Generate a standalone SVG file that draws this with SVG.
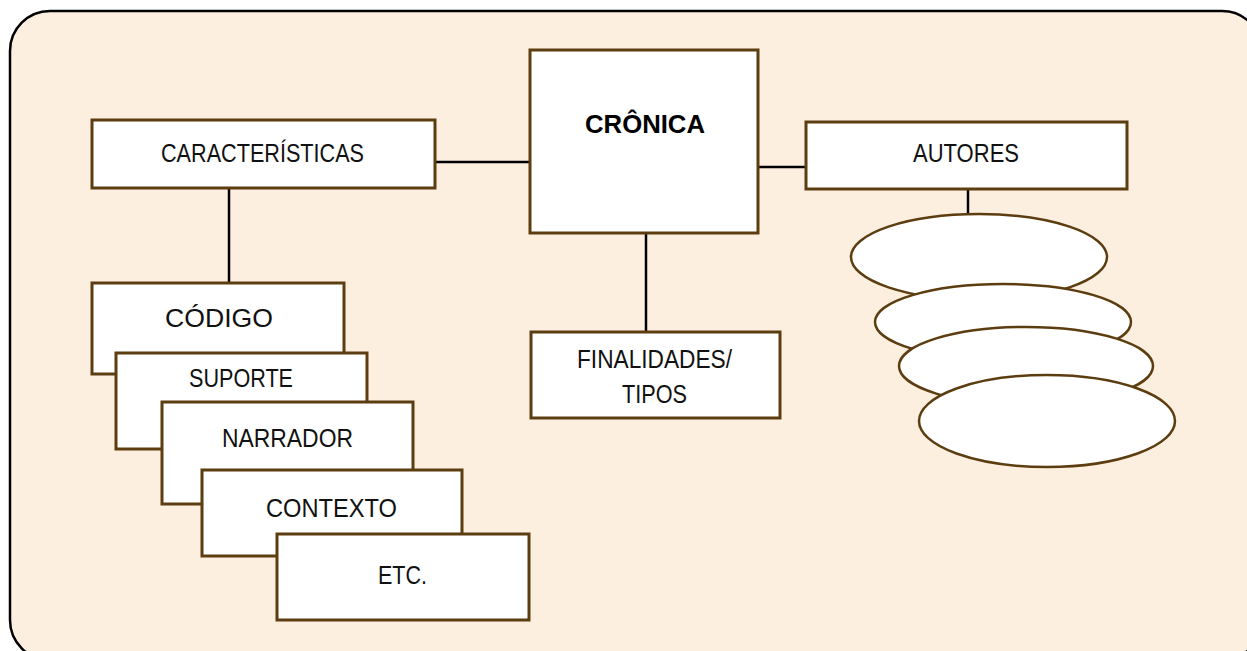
<svg xmlns="http://www.w3.org/2000/svg" width="1247" height="651" viewBox="0 0 1247 651">
<style>
.frame{fill:#fdefe0;stroke:#000;stroke-width:2.5}
.box{fill:#fff;stroke:#5c3d10;stroke-width:3}
.oval{fill:#fff;stroke:#5c3d10;stroke-width:2.5}
.conn{stroke:#000;stroke-width:2.5;fill:none}
.lbl{font-family:"Liberation Sans",Arial,sans-serif;font-size:25px;fill:#111}
.bold{font-family:"Liberation Sans",Arial,sans-serif;font-size:26px;font-weight:bold;fill:#000}
</style>
<rect class="frame" x="10" y="11" width="1252" height="649" rx="40" ry="40"/>
<g id="connectors">
<line class="conn" x1="435" y1="162" x2="530" y2="162"/>
<line class="conn" x1="758" y1="167" x2="806" y2="167"/>
<line class="conn" x1="646" y1="233" x2="646" y2="332"/>
<line class="conn" x1="229" y1="188" x2="229" y2="283"/>
<line class="conn" x1="968" y1="189" x2="968" y2="214"/>
</g>
<g id="caracteristicas">
<rect class="box" x="92" y="120" width="343" height="68"/>
<text class="lbl" x="161" y="162" textLength="203" lengthAdjust="spacingAndGlyphs">CARACTERÍSTICAS</text>
</g>
<g id="cronica">
<rect class="box" x="530" y="50" width="228" height="183"/>
<text class="bold" x="585" y="133" textLength="120" lengthAdjust="spacingAndGlyphs">CRÔNICA</text>
</g>
<g id="autores">
<rect class="box" x="806" y="122" width="321" height="67"/>
<text class="lbl" x="913" y="162" textLength="106" lengthAdjust="spacingAndGlyphs">AUTORES</text>
</g>
<g id="finalidades">
<rect class="box" x="531" y="332" width="249" height="86"/>
<text class="lbl" x="577" y="368" textLength="155" lengthAdjust="spacingAndGlyphs">FINALIDADES/</text>
<text class="lbl" x="622" y="403" textLength="65" lengthAdjust="spacingAndGlyphs">TIPOS</text>
</g>
<g id="codigo">
<rect class="box" x="92" y="283" width="252" height="91"/>
<text class="lbl" x="165" y="327" textLength="108" lengthAdjust="spacingAndGlyphs">CÓDIGO</text>
</g>
<g id="suporte">
<rect class="box" x="116" y="353" width="251" height="96"/>
<text class="lbl" x="189" y="387" textLength="104" lengthAdjust="spacingAndGlyphs">SUPORTE</text>
</g>
<g id="narrador">
<rect class="box" x="162" y="402" width="251" height="102"/>
<text class="lbl" x="222" y="447" textLength="131" lengthAdjust="spacingAndGlyphs">NARRADOR</text>
</g>
<g id="contexto">
<rect class="box" x="202" y="470" width="260" height="86"/>
<text class="lbl" x="266" y="517" textLength="131" lengthAdjust="spacingAndGlyphs">CONTEXTO</text>
</g>
<g id="etc">
<rect class="box" x="277" y="534" width="252" height="86"/>
<text class="lbl" x="378" y="584" textLength="49" lengthAdjust="spacingAndGlyphs">ETC.</text>
</g>
<g id="autor1"><ellipse class="oval" cx="979" cy="257" rx="128" ry="43"/></g>
<g id="autor2"><ellipse class="oval" cx="1003" cy="322" rx="128" ry="38"/></g>
<g id="autor3"><ellipse class="oval" cx="1026" cy="366" rx="127" ry="39"/></g>
<g id="autor4"><ellipse class="oval" cx="1047" cy="421" rx="128" ry="46"/></g>
</svg>
